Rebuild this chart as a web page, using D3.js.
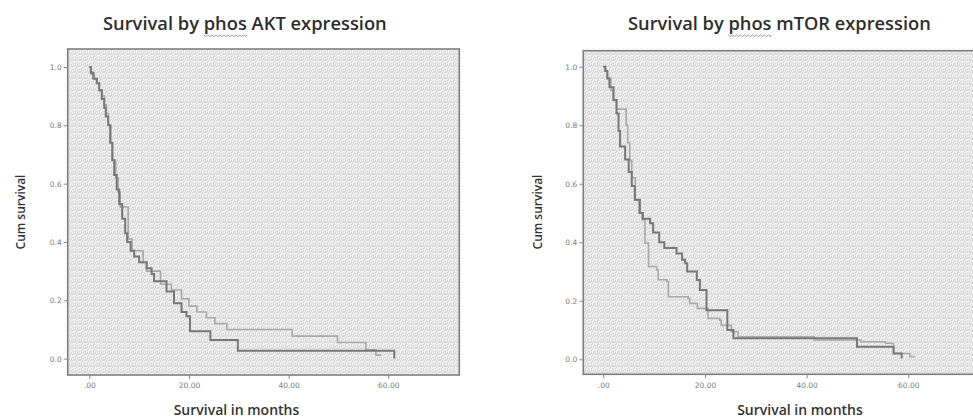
<!DOCTYPE html>
<html>
<head>
<meta charset="utf-8">
<script src="https://cdn.jsdelivr.net/npm/d3@7"></script>
<style>
  html, body { margin: 0; padding: 0; background: #ffffff; }
  svg { display: block; }
</style>
</head>
<body>
<svg id="chart" width="973" height="418"></svg>
<script>
// ---------- DATA ----------
const panelTitles = ["Survival by phos AKT expression", "Survival by phos mTOR expression"];
const xAxisTitle = "Survival in months";
const yAxisTitle = "Cum survival";
const xTickValues = [0, 20, 40, 60];
const xTickLabels = [".00", "20.00", "40.00", "60.00"];
const yTickValues = [0, 0.2, 0.4, 0.6, 0.8, 1.0];
const yTickLabels = ["0.0", "0.2", "0.4", "0.6", "0.8", "1.0"];

// phos AKT – darker curve
const aktDarkTime = [0, 0.3, 0.8, 1.5, 2.0, 2.5, 3.0, 3.3, 3.8, 4.2, 4.6, 5.0, 5.5, 6.0, 6.6, 7.2, 7.6, 8.3, 9.0, 10.0, 11.5, 12.5, 13.0, 15.5, 17.0, 18.5, 19.5, 20.2, 24.3, 29.8, 61.2];
const aktDarkSurv = [1.0, 0.98, 0.96, 0.944, 0.92, 0.89, 0.86, 0.83, 0.80, 0.74, 0.68, 0.63, 0.58, 0.53, 0.48, 0.43, 0.40, 0.37, 0.35, 0.33, 0.31, 0.29, 0.265, 0.23, 0.19, 0.16, 0.145, 0.094, 0.064, 0.027, 0.0];
// phos AKT – lighter curve
const aktLightTime = [0, 0.4, 1.0, 1.5, 2.0, 2.6, 3.0, 3.4, 3.8, 4.3, 4.7, 5.3, 5.8, 6.2, 7.8, 8.6, 10.8, 11.5, 14.3, 16.5, 18.5, 20.0, 21.6, 23.5, 25.2, 27.6, 40.7, 49.8, 55.5, 57.5, 58.6];
const aktLightSurv = [1.0, 0.975, 0.96, 0.944, 0.92, 0.90, 0.87, 0.84, 0.80, 0.74, 0.68, 0.62, 0.57, 0.52, 0.41, 0.37, 0.33, 0.30, 0.255, 0.235, 0.205, 0.18, 0.16, 0.14, 0.12, 0.10, 0.077, 0.055, 0.03, 0.012, 0.012];

// phos mTOR – darker curve
const mtorDarkTime = [0, 0.4, 0.8, 1.2, 2.0, 2.6, 3.0, 3.3, 4.3, 5.0, 5.6, 6.2, 7.2, 7.8, 9.2, 9.8, 11.0, 12.0, 14.4, 15.5, 16.1, 16.5, 18.4, 19.0, 20.3, 24.4, 25.6, 49.9, 57.1, 58.7];
const mtorDarkSurv = [1.0, 0.985, 0.96, 0.93, 0.886, 0.84, 0.78, 0.727, 0.683, 0.64, 0.592, 0.545, 0.50, 0.48, 0.465, 0.433, 0.40, 0.38, 0.362, 0.34, 0.328, 0.30, 0.271, 0.237, 0.168, 0.10, 0.072, 0.043, 0.02, 0.003];
// phos mTOR – lighter curve
const mtorLightTime = [0, 0.4, 0.8, 1.5, 2.0, 2.6, 4.5, 4.8, 5.2, 5.6, 6.3, 7.0, 7.6, 8.2, 8.9, 10.5, 10.8, 12.5, 12.8, 16.7, 17.0, 18.5, 20.6, 22.9, 23.2, 25.2, 26.5, 41.5, 50.7, 55.5, 57.1, 60.3, 61.3];
const mtorLightSurv = [1.0, 0.985, 0.96, 0.92, 0.886, 0.855, 0.80, 0.74, 0.68, 0.62, 0.545, 0.50, 0.477, 0.397, 0.317, 0.305, 0.272, 0.266, 0.214, 0.208, 0.191, 0.174, 0.14, 0.134, 0.116, 0.094, 0.077, 0.066, 0.06, 0.055, 0.02, 0.009, 0.009];

// ---------- LAYOUT ----------
const panels = [
  { title: panelTitles[0], titleX0: 103, titleX1: 387, titleBase: 30,
    frame: { x0: 67.7, x1: 459.3, y0: 49, y1: 375 },
    xRange: [89.3, 388.3], yRange: [358.6, 67],
    yTitleX: 20, yTitleY: 212, xTitleX: 236.5, xTitleY: 415,
    dark: [aktDarkTime, aktDarkSurv], light: [aktLightTime, aktLightSurv] },
  { title: panelTitles[1], titleX0: 628, titleX1: 931, titleBase: 30,
    frame: { x0: 583.3, x1: 975, y0: 50.7, y1: 374.3 },
    xRange: [603.3, 908.3], yRange: [359.3, 66.7],
    yTitleX: 537, yTitleY: 212, xTitleX: 800, xTitleY: 415,
    dark: [mtorDarkTime, mtorDarkSurv], light: [mtorLightTime, mtorLightSurv] }
];

const svg = d3.select("#chart");
const defs = svg.append("defs");

// textured grey background pattern
const pat = defs.append("pattern").attr("id", "tex").attr("patternUnits", "userSpaceOnUse")
  .attr("width", 6).attr("height", 6);
pat.append("rect").attr("width", 6).attr("height", 6).attr("fill", "#ebebeb");
[[0,0,3,1],[3,2,1,3],[0,3,2,1],[5,4,1,2],[1,5,3,1],[4,0,1,2]].forEach(r => {
  pat.append("rect").attr("x", r[0]).attr("y", r[1]).attr("width", r[2]).attr("height", r[3]).attr("fill", "#dadada");
});
[[1,1,2,1],[4,3,1,1],[2,4,1,1]].forEach(r => {
  pat.append("rect").attr("x", r[0]).attr("y", r[1]).attr("width", r[2]).attr("height", r[3]).attr("fill", "#f7f7f7");
});

panels.forEach((p, i) => {
  const g = svg.append("g");
  const x = d3.scaleLinear().domain([0, 60]).range(p.xRange);
  const y = d3.scaleLinear().domain([0, 1]).range(p.yRange);
  const f = p.frame;

  // title
  const t = g.append("text")
    .attr("x", p.titleX0).attr("y", p.titleBase)
    .attr("font-family", "'Open Sans', sans-serif").attr("font-weight", 600)
    .attr("font-size", 16).attr("fill", "#2e2e2e")
    .text(p.title);
  const w = t.node().getComputedTextLength();
  t.attr("font-size", 16 * (p.titleX1 - p.titleX0) / w);
  // wavy spellcheck underline under "phos"
  const idx = p.title.indexOf("phos");
  const s0 = t.node().getStartPositionOfChar(idx).x;
  const s1 = t.node().getEndPositionOfChar(idx + 3).x;
  let wd = `M${s0},${p.titleBase + 5}`;
  for (let xx = s0, k = 0; xx < s1; xx += 2, k++) {
    wd += ` L${Math.min(xx + 2, s1)},${p.titleBase + 5 + (k % 2 === 0 ? 1.5 : 0)}`;
  }
  g.append("path").attr("d", wd).attr("fill", "none").attr("stroke", "#8a8fa0").attr("stroke-width", 0.9);

  // plot background + frame
  g.append("rect")
    .attr("x", f.x0).attr("y", f.y0).attr("width", f.x1 - f.x0).attr("height", f.y1 - f.y0)
    .attr("fill", "url(#tex)").attr("stroke", "#7d7d7d").attr("stroke-width", 1.6);

  // axes
  const yAxis = d3.axisLeft(y).tickValues(yTickValues).tickSize(4)
    .tickFormat((d, j) => yTickLabels[j]);
  const ya = g.append("g").attr("transform", `translate(${f.x0},0)`).call(yAxis);
  const xAxis = d3.axisBottom(x).tickValues(xTickValues).tickSize(4)
    .tickFormat((d, j) => xTickLabels[j]);
  const xa = g.append("g").attr("transform", `translate(0,${f.y1})`).call(xAxis);
  [ya, xa].forEach(a => {
    a.select(".domain").remove();
    a.selectAll(".tick line").attr("stroke", "#8a8a8a").attr("stroke-width", 1);
    a.selectAll(".tick text").attr("fill", "#7a7a7a")
      .attr("font-family", "'DejaVu Sans', sans-serif").attr("font-size", 7.5);
  });
  ya.selectAll(".tick text").attr("x", -6);
  xa.selectAll(".tick text").attr("y", 8);

  // axis titles
  g.append("text")
    .attr("transform", `translate(${p.yTitleX},${p.yTitleY}) rotate(-90)`)
    .attr("text-anchor", "middle").attr("dominant-baseline", "central")
    .attr("font-family", "'Open Sans', sans-serif").attr("font-weight", 600)
    .attr("font-size", 12).attr("fill", "#333").text(yAxisTitle);
  g.append("text")
    .attr("x", p.xTitleX).attr("y", p.xTitleY).attr("text-anchor", "middle")
    .attr("font-family", "'Open Sans', sans-serif").attr("font-weight", 600)
    .attr("font-size", 14).attr("fill", "#333").text(xAxisTitle);

  // survival curves
  const line = d3.line().x(d => x(d[0])).y(d => y(d[1])).curve(d3.curveStepAfter);
  const lightPts = p.light[0].map((tt, j) => [tt, p.light[1][j]]);
  const darkPts = p.dark[0].map((tt, j) => [tt, p.dark[1][j]]);
  g.append("path").datum(lightPts).attr("d", line)
    .attr("fill", "none").attr("stroke", "#a9a9a9").attr("stroke-width", 1.6);
  g.append("path").datum(darkPts).attr("d", line)
    .attr("fill", "none").attr("stroke", "#777777").attr("stroke-width", 2);
});
</script>
</body>
</html>
